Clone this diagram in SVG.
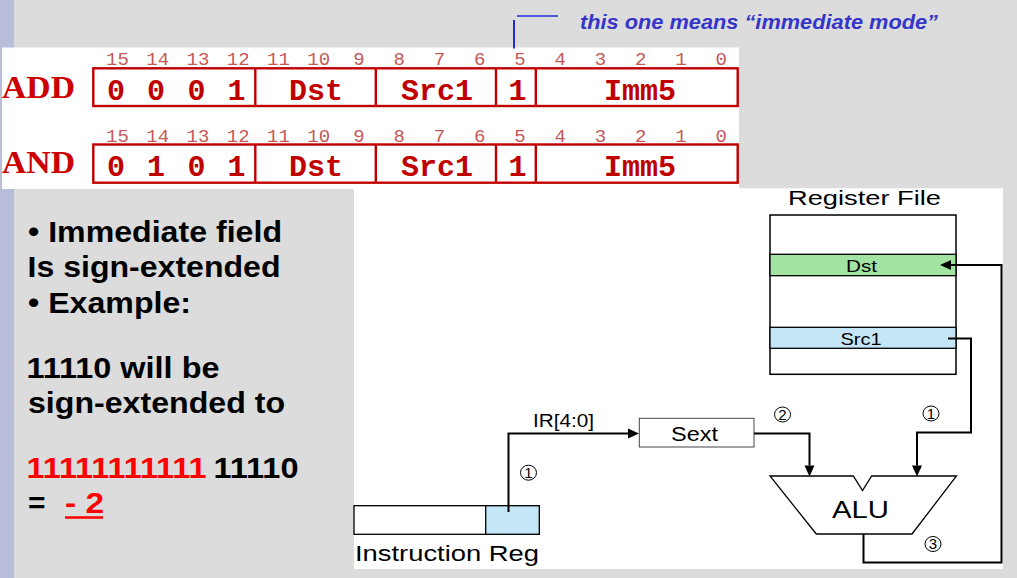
<svg xmlns="http://www.w3.org/2000/svg" width="1017" height="578" viewBox="0 0 1017 578">
<defs>
<style>
.bitn{font-family:"Liberation Mono","Courier New",monospace;font-size:19px;fill:#C45858;text-anchor:middle}
.fld{font-family:"Liberation Mono","Courier New",monospace;font-size:30px;font-weight:bold;fill:#C00000;text-anchor:middle}
.op{font-family:"Liberation Serif","Times New Roman",serif;font-size:31px;font-weight:bold;fill:#CC0000}
.box{fill:none;stroke:#C00000;stroke-width:2.4}
.bl{font-family:"Liberation Sans",Arial,sans-serif;font-size:30px;font-weight:bold;fill:#000}
.lab{font-family:"Liberation Sans",Arial,sans-serif;fill:#000}
.wire{fill:none;stroke:#000;stroke-width:2}
.circ{fill:none;stroke:#000;stroke-width:1}
.cn{font-family:"Liberation Sans",Arial,sans-serif;font-size:15px;fill:#000;text-anchor:middle}
</style>
<marker id="ah" markerUnits="userSpaceOnUse" markerWidth="12" markerHeight="11" refX="0" refY="5" orient="auto" overflow="visible">
<path d="M0,0 L11,5 L0,10 z" fill="#000"/>
</marker>
</defs>
<rect x="0" y="0" width="1017" height="578" fill="#DCDCDC"/>
<rect x="0" y="0" width="14" height="578" fill="#B8BDD9"/>
<rect x="2" y="47.5" width="737" height="141.5" fill="#FFFFFF"/>
<rect x="354" y="188.3" width="649" height="380.7" fill="#FFFFFF"/>

<g id="annotation">
<line x1="517" y1="16" x2="558" y2="16" stroke="#2828D8" stroke-width="1.3"/>
<line x1="514" y1="20" x2="514" y2="48.5" stroke="#2828D8" stroke-width="2"/>
<text x="580" y="29" font-family="Liberation Sans,Arial,sans-serif" font-size="20" font-weight="bold" font-style="italic" fill="#3535C8" textLength="358" lengthAdjust="spacingAndGlyphs">this one means “immediate mode”</text>
</g>

<g id="add-format">
<text class="op" x="2" y="97.5" textLength="73" lengthAdjust="spacingAndGlyphs">ADD</text>
<g class="bitn">
<text x="117.5" y="65">15</text><text x="157.7" y="65">14</text><text x="198" y="65">13</text><text x="238.2" y="65">12</text>
<text x="278.5" y="65">11</text><text x="318.7" y="65">10</text><text x="359" y="65">9</text><text x="399.2" y="65">8</text>
<text x="439.5" y="65">7</text><text x="479.7" y="65">6</text><text x="520" y="65">5</text><text x="560.2" y="65">4</text>
<text x="600.5" y="65">3</text><text x="640.7" y="65">2</text><text x="681" y="65">1</text><text x="721.2" y="65">0</text>
</g>
<rect class="box" x="93.3" y="68.3" width="644.4" height="37.7"/>
<line class="box" x1="255.3" y1="68.3" x2="255.3" y2="106"/>
<line class="box" x1="375.8" y1="68.3" x2="375.8" y2="106"/>
<line class="box" x1="496" y1="68.3" x2="496" y2="106"/>
<line class="box" x1="535.8" y1="68.3" x2="535.8" y2="106"/>
<g class="fld">
<text x="116" y="100">0</text><text x="156" y="100">0</text><text x="196.5" y="100">0</text><text x="236.5" y="100">1</text>
<text x="316" y="100">Dst</text><text x="437" y="100">Src1</text><text x="517.5" y="100">1</text><text x="640" y="100">Imm5</text>
</g>
</g>

<g id="and-format">
<text class="op" x="2" y="173" textLength="73" lengthAdjust="spacingAndGlyphs">AND</text>
<g class="bitn">
<text x="117.5" y="141.5">15</text><text x="157.7" y="141.5">14</text><text x="198" y="141.5">13</text><text x="238.2" y="141.5">12</text>
<text x="278.5" y="141.5">11</text><text x="318.7" y="141.5">10</text><text x="359" y="141.5">9</text><text x="399.2" y="141.5">8</text>
<text x="439.5" y="141.5">7</text><text x="479.7" y="141.5">6</text><text x="520" y="141.5">5</text><text x="560.2" y="141.5">4</text>
<text x="600.5" y="141.5">3</text><text x="640.7" y="141.5">2</text><text x="681" y="141.5">1</text><text x="721.2" y="141.5">0</text>
</g>
<rect class="box" x="93.3" y="144.5" width="644.4" height="38.2"/>
<line class="box" x1="255.3" y1="144.5" x2="255.3" y2="182.7"/>
<line class="box" x1="375.8" y1="144.5" x2="375.8" y2="182.7"/>
<line class="box" x1="496" y1="144.5" x2="496" y2="182.7"/>
<line class="box" x1="535.8" y1="144.5" x2="535.8" y2="182.7"/>
<g class="fld">
<text x="116" y="176">0</text><text x="156" y="176">1</text><text x="196.5" y="176">0</text><text x="236.5" y="176">1</text>
<text x="316" y="176">Dst</text><text x="437" y="176">Src1</text><text x="517.5" y="176">1</text><text x="640" y="176">Imm5</text>
</g>
</g>

<g id="explanation">
<text class="bl" x="28" y="241.5" textLength="254" lengthAdjust="spacingAndGlyphs">• Immediate field</text>
<text class="bl" x="27.5" y="276.7" textLength="253" lengthAdjust="spacingAndGlyphs">Is sign-extended</text>
<text class="bl" x="28" y="313.3" textLength="163" lengthAdjust="spacingAndGlyphs">• Example:</text>
<text class="bl" x="26.5" y="378.3" textLength="193" lengthAdjust="spacingAndGlyphs">11110 will be</text>
<text class="bl" x="28" y="413.3" textLength="257" lengthAdjust="spacingAndGlyphs">sign-extended to</text>
<text class="bl" x="26.5" y="478.3" style="fill:#FF0000" textLength="180" lengthAdjust="spacingAndGlyphs">11111111111</text>
<text class="bl" x="213.5" y="478.3" textLength="85" lengthAdjust="spacingAndGlyphs">11110</text>
<text class="bl" x="28" y="513.3">=</text>
<text class="bl" x="65" y="513.3" style="fill:#FF0000" textLength="39" lengthAdjust="spacingAndGlyphs">- 2</text>
<line x1="65" y1="517.5" x2="103" y2="517.5" stroke="#FF0000" stroke-width="2.5"/>
</g>

<g id="register-file">
<text class="lab" x="788" y="205" font-size="20" textLength="153" lengthAdjust="spacingAndGlyphs">Register File</text>
<rect x="770" y="215" width="186" height="159.3" fill="#FFFFFF" stroke="#000" stroke-width="1.5"/>
<rect x="770" y="254.3" width="186" height="21.4" fill="#A3E4A3" stroke="#000" stroke-width="1.3"/>
<text class="lab" x="846" y="272.3" font-size="17" textLength="31" lengthAdjust="spacingAndGlyphs">Dst</text>
<rect x="770" y="327.3" width="186" height="21" fill="#C3E5F5" stroke="#000" stroke-width="1.3"/>
<text class="lab" x="840.5" y="345" font-size="17" textLength="41" lengthAdjust="spacingAndGlyphs">Src1</text>
</g>

<g id="instruction-reg">
<rect x="354" y="505.7" width="185.3" height="28.6" fill="#FFFFFF" stroke="#000" stroke-width="1.3"/>
<rect x="485.7" y="505.7" width="53.6" height="28.6" fill="#C3E5F5" stroke="#000" stroke-width="1.3"/>
<text class="lab" x="355" y="561" font-size="21.5" textLength="184" lengthAdjust="spacingAndGlyphs">Instruction Reg</text>
</g>

<g id="sext">
<rect x="639.3" y="418.3" width="114.7" height="28.7" fill="#FFFFFF" stroke="#444" stroke-width="1"/>
<text class="lab" x="671" y="440.7" font-size="20" textLength="47" lengthAdjust="spacingAndGlyphs">Sext</text>
</g>

<g id="alu">
<polygon points="770,476 853.3,476 862.5,490.5 871.7,476 956.5,476 912,534 816.3,534" fill="#FFFFFF" stroke="#000" stroke-width="1.3"/>
<text class="lab" x="832" y="518.3" font-size="24" textLength="57" lengthAdjust="spacingAndGlyphs">ALU</text>
</g>

<g id="connectors">
<path class="wire" d="M508.5,512 V433.5 H628" marker-end="url(#ah)"/>
<path class="wire" d="M754,433.5 H809.5 V465.5" marker-end="url(#ah)"/>
<path class="wire" d="M948,338.5 H971 V432.5 H917 V465.5" marker-end="url(#ah)"/>
<path class="wire" d="M863.5,534 V562.5 H1001.5 V265 H951" marker-end="url(#ah)"/>
<text class="lab" x="533" y="427.3" font-size="18" textLength="61" lengthAdjust="spacingAndGlyphs">IR[4:0]</text>
<ellipse class="circ" cx="528.5" cy="472.7" rx="8" ry="7.5"/>
<text class="cn" x="528.5" y="478">1</text>
<ellipse class="circ" cx="782.5" cy="414.5" rx="8" ry="7.5"/>
<text class="cn" x="782.5" y="419.8">2</text>
<ellipse class="circ" cx="931" cy="413.5" rx="8" ry="7.5"/>
<text class="cn" x="931" y="418.8">1</text>
<ellipse class="circ" cx="933" cy="544" rx="8" ry="7.5"/>
<text class="cn" x="933" y="549.3">3</text>
</g>
</svg>
